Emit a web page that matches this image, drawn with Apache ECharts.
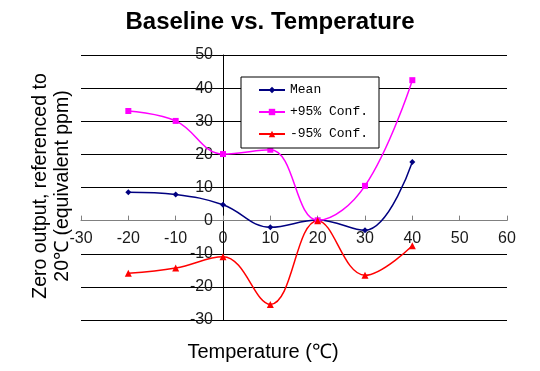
<!DOCTYPE html>
<html><head><meta charset="utf-8">
<script src="https://cdn.jsdelivr.net/npm/echarts@6/dist/echarts.min.js"></script>
<style>html,body{margin:0;padding:0;background:#fff}#c{width:540px;height:371px}</style>
</head><body><div id="c"></div>
<script>
var temps = [-20, -10, 0, 10, 20, 30, 40];
var meanVals = [8.6, 7.9, 4.8, -2.0, 0.2, -2.9, 17.7];
var upperVals = [33.1, 30.1, 20.1, 21.4, 0.1, 10.5, 42.4];
var lowerVals = [-15.9, -14.3, -10.9, -25.3, 0.0, -16.5, -7.6];
var seriesNames = ['Mean', '+95% Conf.', '-95% Conf.'];
var xMin = -30, xMax = 60, xStep = 10;
var yMin = -30, yMax = 50, yStep = 10;

function pairs(v){ return temps.map(function(t,i){ return [t, v[i]]; }); }

var W = 540, H = 371;
var gL = 81, gR = 33, gT = 55, gB = 51;
var gW = W - gL - gR, gH = H - gT - gB;
// move axes so they cross at the origin (offset from the grid edge)
var yAxisOffset = -((0 - xMin) / (xMax - xMin)) * gW;
var xAxisOffset = -((0 - yMin) / (yMax - yMin)) * gH;

var chart = echarts.init(document.getElementById('c'));
chart.setOption({
  animation: false,
  backgroundColor: '#fff',
  title: { text: 'Baseline vs. Temperature', left: 'center', top: 5,
    textStyle: { fontFamily: 'Liberation Sans, Arial', fontWeight: 'bold', fontSize: 24, color: '#000' } },
  grid: { left: gL, right: gR, top: gT, bottom: gB },
  legend: {
    orient: 'vertical', left: 241, top: 77,
    padding: [6, 11, 7, 17], itemGap: 8, itemWidth: 26, itemHeight: 8,
    backgroundColor: '#fff', borderColor: '#000', borderWidth: 1,
    textStyle: { fontFamily: 'Liberation Mono, DejaVu Sans Mono, monospace', fontSize: 13, color: '#000', lineHeight: 14 },
    data: seriesNames
  },
  xAxis: {
    type: 'value', min: xMin, max: xMax, interval: xStep, offset: xAxisOffset,
    axisLine: { onZero: false, lineStyle: { color: '#808080', width: 1 } },
    axisTick: { show: true, inside: true, length: 5, lineStyle: { color: '#808080' } },
    axisLabel: { fontFamily: 'Liberation Sans, Arial', fontSize: 16, color: '#1a1a1a', margin: 10 },
    splitLine: { show: false }
  },
  yAxis: {
    type: 'value', min: yMin, max: yMax, interval: yStep, offset: yAxisOffset,
    axisLine: { show: true, onZero: false, lineStyle: { color: '#000', width: 1 } },
    axisTick: { show: false },
    axisLabel: { fontFamily: 'Liberation Sans, Arial', fontSize: 16, color: '#1a1a1a', margin: 10 },
    splitLine: { show: true, lineStyle: { color: '#000', width: 1 } }
  },
  graphic: [
    { type: 'text', x: 41, y: 186, rotation: Math.PI/2, style: { text: 'Zero output, referenced to', font: '19.5px Liberation Sans, Arial', fill: '#000', align: 'center', verticalAlign: 'middle' } },
    { type: 'text', x: 63, y: 186, rotation: Math.PI/2, style: { text: '20℃ (equivalent ppm)', font: '19.5px Liberation Sans, Arial', fill: '#000', align: 'center', verticalAlign: 'middle' } },
    { type: 'text', x: 263, y: 352, style: { text: 'Temperature (℃)', font: '20px Liberation Sans, Arial', fill: '#000', align: 'center', verticalAlign: 'middle' } }
  ],
  series: [
    { name: seriesNames[0], type: 'line', smooth: 0.4, data: pairs(meanVals),
      symbol: 'diamond', symbolSize: 6, color: '#000080', lineStyle: { width: 1.5, color: '#000080' } },
    { name: seriesNames[1], type: 'line', smooth: 0.4, data: pairs(upperVals),
      symbol: 'rect', symbolSize: 6, color: '#ff00ff', lineStyle: { width: 1.5, color: '#ff00ff' } },
    { name: seriesNames[2], type: 'line', smooth: 0.4, data: pairs(lowerVals),
      symbol: 'triangle', symbolSize: 7, color: '#ff0000', lineStyle: { width: 1.5, color: '#ff0000' } }
  ]
});
</script></body></html>
